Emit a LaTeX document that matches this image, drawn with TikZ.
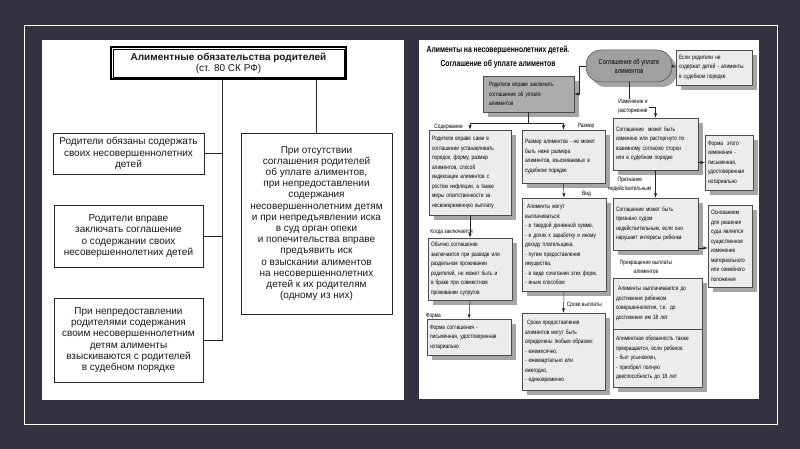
\documentclass[tikz,border=0pt]{standalone}
\usepackage{fontspec}
\setmainfont{Liberation Sans}
\newfontfamily\narrowfont[FakeStretch=0.78]{Liberation Sans}
\usepackage{tikz}
\usetikzlibrary{shapes.geometric, arrows, shadows}
\definecolor{slidebg}{RGB}{52,50,65}
\definecolor{boxgray}{RGB}{236,236,236}
\definecolor{shadowgray}{RGB}{165,165,165}
\definecolor{concgray}{RGB}{172,172,172}
\definecolor{agreegray}{RGB}{160,160,160}

\begin{document}
\begin{tikzpicture}[x=1pt, y=-1pt, >=latex]
	\tikzstyle{lmain} = [rectangle, draw=black!85, line width=0.7pt, fill=white, align=center, inner sep=2pt, text=black!90, font=\fontsize{10}{11.2}\selectfont]
	\tikzstyle{rmain} = [rectangle, draw=black!70, line width=0.5pt, fill=boxgray, align=left, inner sep=3pt, font=\narrowfont\fontsize{6.2}{9.5}\selectfont, drop shadow={shadow xshift=5pt, shadow yshift=-5pt, fill=shadowgray, opacity=1}]
	\tikzstyle{rlabel} = [inner sep=1pt, align=center, font=\narrowfont\fontsize{6.2}{9}\selectfont]
	\tikzstyle{link} = [line width=0.5pt, draw=black!85]

	% slide
	\fill[slidebg] (0,0) rectangle (800,449);
	\draw[white, line width=0.9pt] (24,25) rectangle (777,424);
	\fill[white] (42,40) rectangle (404,400);
	\fill[white] (419,40) rectangle (759,399);

	% left scheme
	\node[lmain, draw=black, line width=1.8pt, minimum width=235pt, minimum height=32pt] at (228.5,63) (duty) {\textbf{Алиментные обязательства родителей}\\(ст. 80 СК РФ)};
	\draw[line width=0.6pt] ([shift={(3pt,-3pt)}]duty.north west) rectangle ([shift={(-3pt,3pt)}]duty.south east);
	\node[lmain, minimum width=151pt, minimum height=41pt] at (128.5,153.5) (oblige) {Родители обязаны содержать\\своих несовершеннолетних\\детей};
	\node[lmain, minimum width=149pt, minimum height=62pt] at (128.5,236) (mayagree) {Родители вправе\\заключать соглашение\\о содержании своих\\несовершеннолетних детей};
	\node[lmain, minimum width=149pt, minimum height=84pt] at (128.5,340) (court) {При непредоставлении\\родителями содержания\\своим несовершеннолетним\\детям алименты\\взыскиваются с родителей\\в судебном порядке};
	\node[lmain, minimum width=151pt, minimum height=181pt] at (316.5,223.5) (guard) {При отсутствии\\соглашения родителей\\об уплате алиментов,\\при непредоставлении\\содержания\\несовершеннолетним детям\\и при непредъявлении иска\\в суд орган опеки\\и попечительства вправе\\предъявить иск\\о взыскании алиментов\\на несовершеннолетних\\детей к их родителям\\(одному из них)};

	\coordinate (spine) at (222,79);
	\draw[link] (duty.south -| spine) -- (spine |- court.east) -- (court.east);
	\draw[link] (oblige.east) -- (oblige.east -| spine);
	\draw[link] (mayagree.east) -- (mayagree.east -| spine);
	\draw[link] (guard.north |- duty.south) -- (guard.north);

	% right scheme
	\node[align=center, font=\narrowfont\bfseries\fontsize{8.7}{14}\selectfont] at (498,57) (rtitle) {Алименты на несовершеннолетних детей.\\Соглашение об уплате алиментов};
	\node[rmain, fill=agreegray, rounded corners=15pt, align=center, minimum width=86pt, minimum height=32pt, font=\narrowfont\fontsize{7.3}{9}\selectfont] at (629,66) (agree) {Соглашение об уплате\\алиментов};
	\node[rmain, text width=70pt, minimum height=35pt] at (714,67.5) (ifnot) {Если родители не\\содержат детей - алименты\\в судебном порядке};
	\node[rmain, fill=concgray, text width=79pt, inner xsep=6pt, minimum height=36pt] at (528.5,94) (conclude) {Родители вправе заключить\\соглашение об уплате\\алиментов};
	\node[rmain, text width=76pt, minimum height=85pt] at (470,172.5) (content) {Родители вправе сами в\\соглашении устанавливать\\порядок, форму, размер\\алиментов, способ\\индексации алиментов с\\ростом инфляции, а также\\меры ответственности за\\несвоевременную выплату};
	\node[rmain, text width=77pt, minimum height=53pt] at (563.5,156.5) (size) {Размер алиментов - не может\\быть ниже размера\\алиментов, взыскиваемых в\\судебном порядке};
	\node[rmain, text width=78pt, minimum height=93pt] at (564,244.5) (kind) {~Алименты могут\\выплачиваться:\\- в твердой денежной сумме,\\- в долях к заработку и иному\\доходу плательщика,\\- путем предоставления\\имущества,\\- в виде сочетания этих форм,\\- иным способом};
	\node[rmain, text width=77pt, minimum height=77pt] at (563.5,351.5) (terms) {~Сроки предоставления\\алиментов могут быть\\определены любым образом:\\- ежемесячно,\\- ежеквартально или\\ежегодно,\\- единовременно};
	\node[rmain, text width=78pt, minimum height=62pt] at (470,269) (when) {Обычно соглашение\\заключается при разводе или\\раздельном проживании\\родителей, но может быть и\\в браке при совместном\\проживании супругов};
	\node[rmain, text width=78pt, minimum height=36pt] at (469,337) (form) {Форма соглашения -\\письменная, удостоверенная\\нотариально};
	\node[rmain, text width=79pt, minimum height=52pt] at (655.5,144) (change) {Соглашение~ может быть\\изменено или расторгнуто по\\взаимному согласию сторон\\или в судебном порядке};
	\node[rmain, text width=42pt, minimum height=55pt] at (729,162.5) (changeform) {Форма~ этого\\изменения -\\письменная,\\удостоверенная\\нотариально};
	\node[rmain, text width=38pt, minimum height=82pt] at (730,246) (basis) {Основанием\\для решения\\суда является\\существенное\\изменение\\материального\\или семейного\\положения};
	\node[rmain, text width=79pt, minimum height=52pt] at (655.5,224) (invalid) {Соглашение может быть\\признано судом\\недействительным, если оно\\нарушает интересы ребенка};
	\node[rmain, text width=83pt, minimum height=51pt] at (657.5,303.5) (adult) {~Алименты выплачиваются до\\достижения ребенком\\совершеннолетия, т.е. до\\достижения им 18 лет};
	\node[rmain, text width=83pt, minimum height=58pt] at (657.5,358) (cease) {Алиментная обязанность также\\прекращается, если ребенок:\\- был усыновлен,\\- приобрел полную\\дееспособность до 18 лет};

	\draw[link, ->] (agree.east) -- (ifnot.west);
	\draw[link, ->] (agree.west) -- ++(-7,0) |- (conclude.east);
	\draw[link] (conclude.south) -- ++(0,11) coordinate (fork);
	\draw[link] (fork -| content.north) -- (fork -| size.north);
	\draw[link, ->] (fork -| content.north) -- (content.north) node[rlabel, midway, left=6pt] {Содержание};
	\draw[link, ->] (fork -| size.north) -- (size.north) node[rlabel, midway, right=13pt] {Размер};
	\draw[link, ->] (size.south) -- (kind.north) node[rlabel, pos=0.75, right=17pt] {Вид};
	\draw[link, ->] (kind.south) -- (terms.north) node[rlabel, pos=0.64, right=2pt] {Сроки выплаты};
	\draw[link, ->] (content.south) -- (when.north) node[rlabel, pos=0.75, left=-4pt] {Когда заключается};
	\draw[link, ->] (when.south) -- (form.north) node[rlabel, pos=0.84, left=27pt] {Форма};

	\draw[link, ->] (agree.south) -- ++(0,25) -| (change.north);
	\node[rlabel, fill=white] at (633,107) (alter) {Изменение и\\расторжение};
	\draw[link, ->] (change.east |- changeform.west) -- (changeform.west);
	\draw[link, ->] (change.south) -- (invalid.north) node[rlabel, midway, left=3pt] {Признание\\недействительным};
	\draw[link, ->] ([yshift=-24pt]invalid.east) -- ([yshift=-24pt]invalid.east -| basis.west);
	\node[rlabel] at (646,267) (stop) {Прекращение выплаты\\алиментов};
\end{tikzpicture}
\end{document}
